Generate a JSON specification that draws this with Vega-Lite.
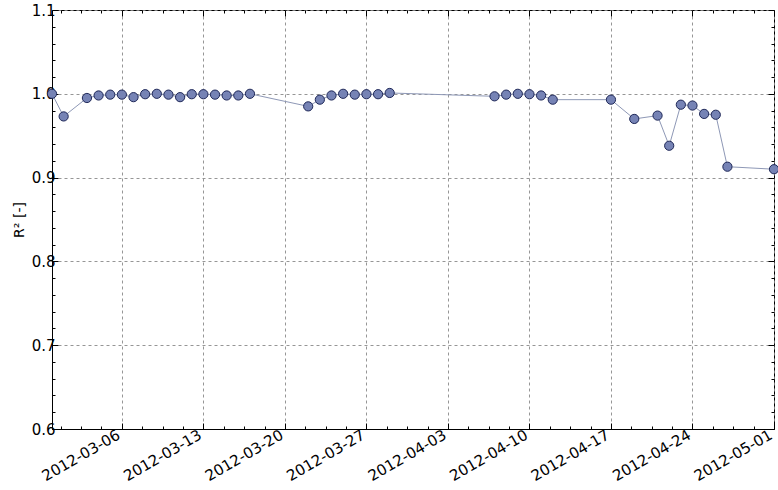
{
  "$schema": "https://vega.github.io/schema/vega-lite/v6.json",
  "autosize": "none",
  "width": 722,
  "height": 419,
  "padding": {"left": 52, "top": 10, "right": 4, "bottom": 61},
  "background": "white",
  "config": {
    "view": {"stroke": "black", "strokeWidth": 1},
    "axis": {
      "labelFont": "DejaVu Sans",
      "titleFont": "DejaVu Sans",
      "labelFontSize": 15,
      "titleFontSize": 14,
      "labelColor": "black",
      "titleColor": "black",
      "domainColor": "black",
      "tickColor": "black",
      "tickWidth": 1,
      "gridColor": "#8a8a8a",
      "gridDash": [3, 3],
      "gridWidth": 0.9,
      "gridOpacity": 1
    }
  },
  "data": {
    "values": [
      {"date": "2012-02-29", "r2": 1.000},
      {"date": "2012-03-01", "r2": 0.973},
      {"date": "2012-03-03", "r2": 0.995},
      {"date": "2012-03-04", "r2": 0.998},
      {"date": "2012-03-05", "r2": 0.999},
      {"date": "2012-03-06", "r2": 0.999},
      {"date": "2012-03-07", "r2": 0.996},
      {"date": "2012-03-08", "r2": 0.9995},
      {"date": "2012-03-09", "r2": 1.000},
      {"date": "2012-03-10", "r2": 0.999},
      {"date": "2012-03-11", "r2": 0.996},
      {"date": "2012-03-12", "r2": 0.9995},
      {"date": "2012-03-13", "r2": 0.9995},
      {"date": "2012-03-14", "r2": 0.999},
      {"date": "2012-03-15", "r2": 0.998},
      {"date": "2012-03-16", "r2": 0.998},
      {"date": "2012-03-17", "r2": 1.000},
      {"date": "2012-03-22", "r2": 0.985},
      {"date": "2012-03-23", "r2": 0.993},
      {"date": "2012-03-24", "r2": 0.998},
      {"date": "2012-03-25", "r2": 1.000},
      {"date": "2012-03-26", "r2": 0.999},
      {"date": "2012-03-27", "r2": 0.9995},
      {"date": "2012-03-28", "r2": 0.9995},
      {"date": "2012-03-29", "r2": 1.001},
      {"date": "2012-04-07", "r2": 0.997},
      {"date": "2012-04-08", "r2": 0.999},
      {"date": "2012-04-09", "r2": 1.000},
      {"date": "2012-04-10", "r2": 0.9995},
      {"date": "2012-04-11", "r2": 0.998},
      {"date": "2012-04-12", "r2": 0.993},
      {"date": "2012-04-17", "r2": 0.993},
      {"date": "2012-04-19", "r2": 0.970},
      {"date": "2012-04-21", "r2": 0.974},
      {"date": "2012-04-22", "r2": 0.938},
      {"date": "2012-04-23", "r2": 0.987},
      {"date": "2012-04-24", "r2": 0.986},
      {"date": "2012-04-25", "r2": 0.976},
      {"date": "2012-04-26", "r2": 0.975},
      {"date": "2012-04-27", "r2": 0.913},
      {"date": "2012-05-01", "r2": 0.910}
    ]
  },
  "resolve": {"axis": {"x": "independent", "y": "independent"}},
  "layer": [
    {
      "mark": {"type": "line", "color": "#8e98b6", "strokeWidth": 1},
      "encoding": {
        "x": {
          "field": "date", "type": "temporal",
          "scale": {"type": "utc", "domain": [{"year": 2012, "month": "feb", "date": 29, "utc": true}, {"year": 2012, "month": "may", "date": 1, "utc": true}]},
          "axis": {
            "orient": "bottom", "title": null,
            "labelExpr": "utcFormat(datum.value, '%Y-%m-%d')",
            "labelFont": "DejaVu Sans", "labelFontSize": 15,
            "values": [
              {"year": 2012, "month": "mar", "date": 6, "utc": true},
              {"year": 2012, "month": "mar", "date": 13, "utc": true},
              {"year": 2012, "month": "mar", "date": 20, "utc": true},
              {"year": 2012, "month": "mar", "date": 27, "utc": true},
              {"year": 2012, "month": "apr", "date": 3, "utc": true},
              {"year": 2012, "month": "apr", "date": 10, "utc": true},
              {"year": 2012, "month": "apr", "date": 17, "utc": true},
              {"year": 2012, "month": "apr", "date": 24, "utc": true},
              {"year": 2012, "month": "may", "date": 1, "utc": true}
            ],
            "grid": true, "tickSize": -6, "labelPadding": 4, "labelOffset": -7,
            "labelAngle": -30, "labelAlign": "right", "labelBaseline": "top",
            "labelFlush": false, "labelOverlap": false, "labelBound": false
          }
        },
        "y": {
          "field": "r2", "type": "quantitative",
          "scale": {"domain": [0.6, 1.1], "nice": false, "zero": false},
          "axis": {
            "orient": "left", "title": "R² [-]",
            "titleFont": "DejaVu Sans", "titleFontSize": 14, "titleFontWeight": "normal", "titlePadding": 5,
            "labelFont": "DejaVu Sans", "labelFontSize": 15,
            "values": [0.6, 0.7, 0.8, 0.9, 1.0, 1.1],
            "labelExpr": "format(datum.value, '.1f')",
            "grid": true, "tickSize": -6, "labelPadding": 3, "labelFlush": false
          }
        }
      }
    },
    {
      "mark": {"type": "point", "filled": true, "fill": "#7683b5", "stroke": "#1f2858", "strokeWidth": 1, "size": 85, "opacity": 1},
      "encoding": {
        "x": {
          "field": "date", "type": "temporal",
          "axis": {
            "orient": "top", "title": null, "labels": false, "domain": false, "grid": false, "tickSize": -6,
            "values": [
              {"year": 2012, "month": "mar", "date": 6, "utc": true},
              {"year": 2012, "month": "mar", "date": 13, "utc": true},
              {"year": 2012, "month": "mar", "date": 20, "utc": true},
              {"year": 2012, "month": "mar", "date": 27, "utc": true},
              {"year": 2012, "month": "apr", "date": 3, "utc": true},
              {"year": 2012, "month": "apr", "date": 10, "utc": true},
              {"year": 2012, "month": "apr", "date": 17, "utc": true},
              {"year": 2012, "month": "apr", "date": 24, "utc": true},
              {"year": 2012, "month": "may", "date": 1, "utc": true}
            ]
          }
        },
        "y": {
          "field": "r2", "type": "quantitative",
          "axis": {"orient": "right", "title": null, "labels": false, "domain": false, "grid": false, "tickSize": -6, "values": [0.6, 0.7, 0.8, 0.9, 1.0, 1.1]}
        }
      }
    },
    {
      "mark": {"type": "point", "opacity": 0},
      "encoding": {
        "x": {
          "field": "date", "type": "temporal",
          "axis": {
            "orient": "bottom", "title": null, "labels": false, "domain": false, "grid": false, "tickSize": -3,
            "values": [
              {"year": 2012, "month": "feb", "date": 29, "hours": 18, "utc": true},
              {"year": 2012, "month": "mar", "date": 2, "hours": 12, "utc": true},
              {"year": 2012, "month": "mar", "date": 4, "hours": 6, "utc": true},
              {"year": 2012, "month": "mar", "date": 7, "hours": 18, "utc": true},
              {"year": 2012, "month": "mar", "date": 9, "hours": 12, "utc": true},
              {"year": 2012, "month": "mar", "date": 11, "hours": 6, "utc": true},
              {"year": 2012, "month": "mar", "date": 14, "hours": 18, "utc": true},
              {"year": 2012, "month": "mar", "date": 16, "hours": 12, "utc": true},
              {"year": 2012, "month": "mar", "date": 18, "hours": 6, "utc": true},
              {"year": 2012, "month": "mar", "date": 21, "hours": 18, "utc": true},
              {"year": 2012, "month": "mar", "date": 23, "hours": 12, "utc": true},
              {"year": 2012, "month": "mar", "date": 25, "hours": 6, "utc": true},
              {"year": 2012, "month": "mar", "date": 28, "hours": 18, "utc": true},
              {"year": 2012, "month": "mar", "date": 30, "hours": 12, "utc": true},
              {"year": 2012, "month": "apr", "date": 1, "hours": 6, "utc": true},
              {"year": 2012, "month": "apr", "date": 4, "hours": 18, "utc": true},
              {"year": 2012, "month": "apr", "date": 6, "hours": 12, "utc": true},
              {"year": 2012, "month": "apr", "date": 8, "hours": 6, "utc": true},
              {"year": 2012, "month": "apr", "date": 11, "hours": 18, "utc": true},
              {"year": 2012, "month": "apr", "date": 13, "hours": 12, "utc": true},
              {"year": 2012, "month": "apr", "date": 15, "hours": 6, "utc": true},
              {"year": 2012, "month": "apr", "date": 18, "hours": 18, "utc": true},
              {"year": 2012, "month": "apr", "date": 20, "hours": 12, "utc": true},
              {"year": 2012, "month": "apr", "date": 22, "hours": 6, "utc": true},
              {"year": 2012, "month": "apr", "date": 25, "hours": 18, "utc": true},
              {"year": 2012, "month": "apr", "date": 27, "hours": 12, "utc": true},
              {"year": 2012, "month": "apr", "date": 29, "hours": 6, "utc": true}
            ]
          }
        },
        "y": {
          "field": "r2", "type": "quantitative",
          "axis": {"orient": "left", "title": null, "labels": false, "domain": false, "grid": false, "tickSize": -3,
            "values": [0.62, 0.64, 0.66, 0.68, 0.72, 0.74, 0.76, 0.78, 0.82, 0.84, 0.86, 0.88, 0.92, 0.94, 0.96, 0.98, 1.02, 1.04, 1.06, 1.08]}
        }
      }
    },
    {
      "mark": {"type": "point", "opacity": 0},
      "encoding": {
        "x": {
          "field": "date", "type": "temporal",
          "axis": {
            "orient": "top", "title": null, "labels": false, "domain": false, "grid": false, "tickSize": -3,
            "values": [
              {"year": 2012, "month": "feb", "date": 29, "hours": 18, "utc": true},
              {"year": 2012, "month": "mar", "date": 2, "hours": 12, "utc": true},
              {"year": 2012, "month": "mar", "date": 4, "hours": 6, "utc": true},
              {"year": 2012, "month": "mar", "date": 7, "hours": 18, "utc": true},
              {"year": 2012, "month": "mar", "date": 9, "hours": 12, "utc": true},
              {"year": 2012, "month": "mar", "date": 11, "hours": 6, "utc": true},
              {"year": 2012, "month": "mar", "date": 14, "hours": 18, "utc": true},
              {"year": 2012, "month": "mar", "date": 16, "hours": 12, "utc": true},
              {"year": 2012, "month": "mar", "date": 18, "hours": 6, "utc": true},
              {"year": 2012, "month": "mar", "date": 21, "hours": 18, "utc": true},
              {"year": 2012, "month": "mar", "date": 23, "hours": 12, "utc": true},
              {"year": 2012, "month": "mar", "date": 25, "hours": 6, "utc": true},
              {"year": 2012, "month": "mar", "date": 28, "hours": 18, "utc": true},
              {"year": 2012, "month": "mar", "date": 30, "hours": 12, "utc": true},
              {"year": 2012, "month": "apr", "date": 1, "hours": 6, "utc": true},
              {"year": 2012, "month": "apr", "date": 4, "hours": 18, "utc": true},
              {"year": 2012, "month": "apr", "date": 6, "hours": 12, "utc": true},
              {"year": 2012, "month": "apr", "date": 8, "hours": 6, "utc": true},
              {"year": 2012, "month": "apr", "date": 11, "hours": 18, "utc": true},
              {"year": 2012, "month": "apr", "date": 13, "hours": 12, "utc": true},
              {"year": 2012, "month": "apr", "date": 15, "hours": 6, "utc": true},
              {"year": 2012, "month": "apr", "date": 18, "hours": 18, "utc": true},
              {"year": 2012, "month": "apr", "date": 20, "hours": 12, "utc": true},
              {"year": 2012, "month": "apr", "date": 22, "hours": 6, "utc": true},
              {"year": 2012, "month": "apr", "date": 25, "hours": 18, "utc": true},
              {"year": 2012, "month": "apr", "date": 27, "hours": 12, "utc": true},
              {"year": 2012, "month": "apr", "date": 29, "hours": 6, "utc": true}
            ]
          }
        },
        "y": {
          "field": "r2", "type": "quantitative",
          "axis": {"orient": "right", "title": null, "labels": false, "domain": false, "grid": false, "tickSize": -3,
            "values": [0.62, 0.64, 0.66, 0.68, 0.72, 0.74, 0.76, 0.78, 0.82, 0.84, 0.86, 0.88, 0.92, 0.94, 0.96, 0.98, 1.02, 1.04, 1.06, 1.08]}
        }
      }
    }
  ]
}
